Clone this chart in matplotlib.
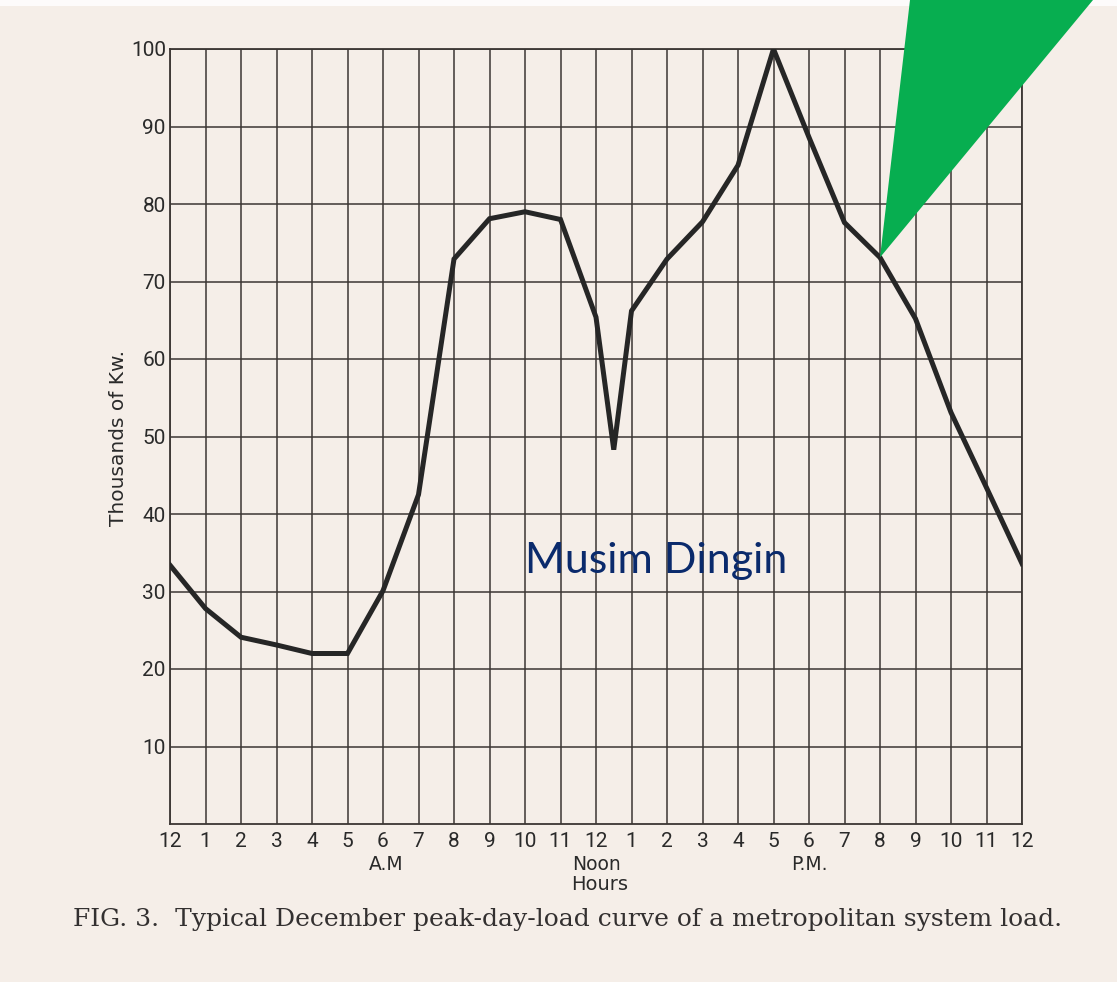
import matplotlib
matplotlib.use('Agg')
import matplotlib.pyplot as plt
from matplotlib.patches import Polygon, Rectangle

# load curve (thousands of kW), hour 0 = midnight
hours = [0, 1, 2, 3, 4, 5, 6, 7, 8, 9, 10, 11, 12, 12.5, 13, 14, 15, 16, 17,
         18, 19, 20, 21, 22, 23, 24]
load = [33.4, 27.8, 24.1, 23.1, 22.0, 22.0, 30.1, 42.5, 72.9, 78.1, 79.0, 78.0,
        65.4, 48.3, 66.2, 72.9, 77.7, 85.0, 100.0, 88.6, 77.6, 73.1, 65.2, 53.1,
        43.4, 33.6]

hour_ticks = list(range(25))
hour_labels = ['12', '1', '2', '3', '4', '5', '6', '7', '8', '9', '10', '11',
               '12', '1', '2', '3', '4', '5', '6', '7', '8', '9', '10', '11', '12']
load_ticks = [10, 20, 30, 40, 50, 60, 70, 80, 90, 100]

period_labels = ['A.M', 'Noon', 'P.M.']
period_pos = [6.1, 12.0, 18.0]

callout_hour = 20
caption = 'FIG. 3.  Typical December peak-day-load curve of a metropolitan system load.'

paper = '#f5eee8'
ink = '#2a2a2a'
sans = ['Roboto', 'DejaVu Sans']

W, H = 1117, 982
fig = plt.figure(figsize=(W / 100, H / 100), dpi=100, facecolor=paper)
ax = fig.add_axes([170 / W, 158 / H, 852 / W, 775 / H])
ax.set_facecolor(paper)

ax.plot(hours, load, color='#262626', lw=3.6, solid_joinstyle='miter', zorder=3)

ax.set_xlim(0, 24)
ax.set_ylim(0, 100)
ax.set_xticks(hour_ticks)
ax.set_xticklabels(hour_labels, family=sans, fontsize=15, color=ink)
ax.set_yticks(load_ticks)
ax.set_yticklabels([str(v) for v in load_ticks], family=sans, fontsize=15, color=ink)
ax.tick_params(axis='x', length=0, pad=6)
ax.tick_params(axis='y', length=0, pad=3)
ax.grid(True, color='#3b3633', lw=1.1)
for s in ax.spines.values():
    s.set_color('#3b3633')
    s.set_linewidth(1.3)

ax.text(-51 / 852, (824 - 438) / 775, 'Thousands of Kw.', transform=ax.transAxes,
        rotation=90, ha='center', va='center', family=['DejaVu Sans'],
        fontsize=14.5, color=ink)

for lab, x in zip(period_labels, period_pos):
    ax.annotate(lab, xy=(x, 0), xycoords=('data', 'axes fraction'),
                xytext=(0, -40), textcoords='offset pixels',
                ha='center', va='center', fontsize=13.5, color=ink,
                family=['DejaVu Sans'])
ax.annotate('Hours', xy=(12.1, 0), xycoords=('data', 'axes fraction'),
            xytext=(0, -60), textcoords='offset pixels',
            ha='center', va='center', fontsize=14, color=ink,
            family=['DejaVu Sans'])

fig.text(73 / W, 1 - 926 / H, caption, family=['DejaVu Serif'],
         fontsize=18, color='#333030', ha='left', va='baseline')

# white scan margin on top
fig.patches.append(Rectangle((0, 1 - 6 / H), 1, 6 / H, transform=fig.transFigure,
                             facecolor='#fdfbfb', edgecolor='none', zorder=0))

# green callout pointing at the 8 P.M. point
tip = fig.transFigure.inverted().transform(
    ax.transData.transform((callout_hour, load[hours.index(callout_hour)])))
tri = Polygon([tip, (910 / W, 1.0), (1093 / W, 1.0)], closed=True,
              transform=fig.transFigure, facecolor='#07ae50', edgecolor='none',
              zorder=5)
fig.patches.append(tri)

fig.text(525 / W, 1 - 573 / H, 'Musim Dingin', family=['Lato', 'DejaVu Sans'],
         fontsize=31, color='#0a2a6c', ha='left', va='baseline', zorder=6)

fig.savefig('out.png', dpi=100, facecolor=paper)
